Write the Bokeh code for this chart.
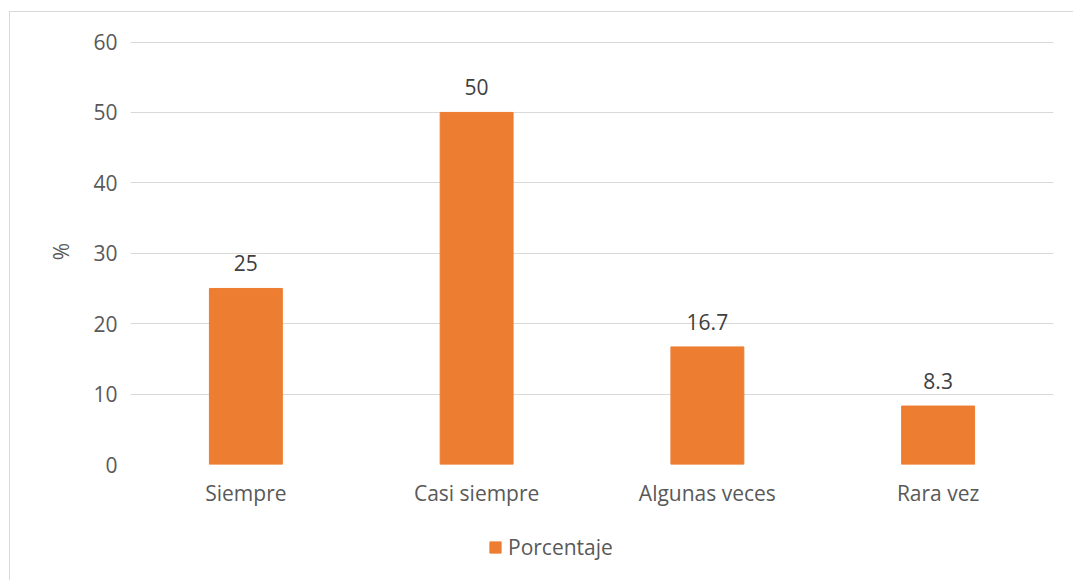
from bokeh.plotting import figure
from bokeh.layouts import column
from bokeh.models import ColumnDataSource, LabelSet, Legend, LegendItem, Range1d, FixedTicker
from bokeh.core.properties import value
from bokeh.embed import file_html
from bokeh.resources import INLINE

categories = ["Siempre", "Casi siempre", "Algunas veces", "Rara vez"]
porcentaje = [25, 50, 16.7, 8.3]
labels = ["25", "50", "16.7", "8.3"]
y_ticks = [0, 10, 20, 30, 40, 50, 60]
series_name = "Porcentaje"

FONT = "Open Sans"
GRAY = "#595959"
ORANGE = "#ED7D31"
FS = "21px"
BORDER = "1px solid #d9d9d9"

src = ColumnDataSource(dict(cat=categories, val=porcentaje, lab=labels))

p = figure(x_range=categories, y_range=Range1d(0, 60.5), width=1064, height=498,
           output_backend="svg", toolbar_location=None,
           min_border_left=120, min_border_right=21, min_border_top=26, min_border_bottom=46,
           margin=(11, 0, 0, 9),
           styles={"border-left": BORDER, "border-top": BORDER})
p.outline_line_color = None

r = p.vbar(x="cat", top="val", width=0.316, source=src, fill_color=ORANGE, line_color=ORANGE)

p.yaxis.ticker = FixedTicker(ticks=y_ticks)
p.ygrid.grid_line_color = "#d9d9d9"
p.ygrid.grid_line_width = 1
p.xgrid.grid_line_color = None
for ax in (p.xaxis[0], p.yaxis[0]):
    ax.axis_line_color = None
    ax.major_tick_line_color = None
    ax.minor_tick_line_color = None
    ax.major_label_text_font = FONT
    ax.major_label_text_color = GRAY
    ax.major_label_text_font_size = FS
p.xaxis.major_label_standoff = 8
p.yaxis.major_label_standoff = 7
p.yaxis.axis_label = "%"
p.yaxis.axis_label_text_font = FONT
p.yaxis.axis_label_text_font_style = "normal"
p.yaxis.axis_label_text_color = GRAY
p.yaxis.axis_label_text_font_size = FS
p.yaxis.axis_label_standoff = 15

lbl = LabelSet(x="cat", y="val", text="lab", source=src, text_align="center",
               text_baseline="alphabetic", y_offset=17, text_font=value(FONT),
               text_font_size=value(FS), text_color="#404040")
p.add_layout(lbl)

# legend strip below the chart (its bars lie outside the visible y range; only the swatch shows)
q = figure(width=1064, height=71, output_backend="svg", toolbar_location=None,
           x_range=categories, y_range=Range1d(100, 101),
           min_border=0, margin=(0, 0, 0, 9), styles={"border-left": BORDER})
q.outline_line_color = None
q.axis.visible = False
q.grid.visible = False
swatch = q.vbar(x="cat", top="val", width=0.316, source=src, fill_color=ORANGE, line_color=ORANGE)
leg = Legend(items=[LegendItem(label=series_name, renderers=[swatch])], location=(358, 19),
             orientation="horizontal", border_line_color=None, background_fill_alpha=0,
             label_text_font=FONT, label_text_font_size=FS, label_text_color=GRAY,
             glyph_width=14, glyph_height=14, label_standoff=6, padding=0, margin=0)
q.add_layout(leg, "center")

open("out.html", "w").write(file_html(column(p, q, spacing=0), INLINE))
